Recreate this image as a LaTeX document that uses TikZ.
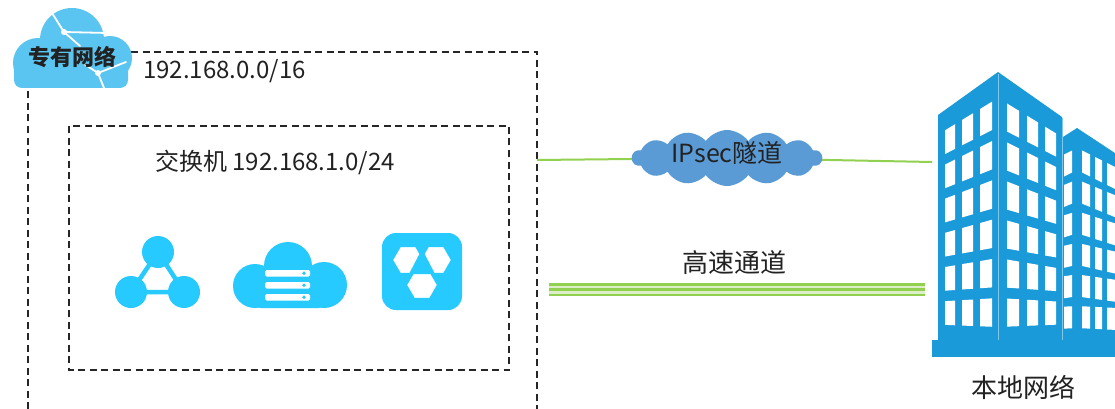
\documentclass[tikz,border=0pt]{standalone}
\usepackage{fontspec}
\setmainfont{Noto Sans CJK SC}
\usetikzlibrary{positioning,shapes.symbols,shapes.geometric}
\definecolor{vpcblue}{HTML}{5BC5F2}
\definecolor{iconcyan}{HTML}{27CAFE}
\definecolor{tunnelblue}{HTML}{5B9BD5}
\definecolor{bldgblue}{HTML}{1A9AD9}
\definecolor{linkgreen}{HTML}{92D050}
\definecolor{linklight}{HTML}{DCEFC8}
\definecolor{txt}{HTML}{222222}

\begin{document}
\begin{tikzpicture}[x=1pt,y=-1pt,
    boxline/.style={draw=black!85,line width=1.4pt,dash pattern=on 7pt off 4.5pt},
    lbl/.style={text=txt,inner sep=0pt,font=\fontsize{24}{28}\selectfont},
    biglbl/.style={text=txt,inner sep=0pt,font=\fontsize{26}{30}\selectfont},
    icon/.style={fill=iconcyan},
    link/.style={draw=linkgreen,line width=2pt},
    hsline/.style={draw=linkgreen,line width=2.5pt},
    tunnel/.style={cloud,cloud puffs=14,cloud puff arc=110,aspect=3.4,fill=tunnelblue,
      minimum width=190pt,minimum height=56pt,inner sep=0pt},
    hexa/.style={regular polygon,regular polygon sides=6,fill=white,draw=iconcyan,
      line width=2pt,minimum size=32pt,inner sep=0pt},
    window/.style={fill=white},
  ]
  \useasboundingbox (0,0) rectangle (1115,409);
  \fill[white] (0,0) rectangle (1115,409);

  % VPC box (open at the bottom) and vswitch box
  \draw[boxline] (28,409) -- (28,52) -- (537,52) -- (537,409);
  \draw[boxline] (69,126) rectangle (509,370);

  % VPC cloud badge
  \fill[vpcblue] (72,40) circle (32) (38,63) circle (25) (110,58) circle (22);
  \fill[vpcblue,rounded corners=8pt] (14,56) rectangle (128,88);
  \draw[white,line width=1.8pt,line cap=round] (52,13) -- (64,32) -- (108,33) (64,32) -- (80,46);
  \draw[white,line width=1.8pt,line cap=round] (84,64) -- (98,73) -- (104,88) (98,73) -- (126,62);
  \fill[white] (64,32) circle (3) (98,73) circle (3);
  \node[lbl,font=\fontsize{22}{26}\selectfont\bfseries] (vpc) at (72,57) {专有网络};
  \node[lbl,anchor=west] (vpcnet) at (143,71) {192.168.0.0/16};
  \node[lbl] (vsw) at (275,162) {交换机 192.168.1.0/24};

  % graph icon
  \coordinate (g1) at (158,252);
  \coordinate (g2) at (131,292);
  \coordinate (g3) at (184,292);
  \draw[draw=iconcyan,line width=4.5pt,line join=round] (g1) -- (g2) -- (g3) -- cycle;
  \foreach \c in {g1,g2,g3}
    \fill[icon] (\c) circle (16);

  % cloud server icon
  \fill[icon] (288,266) circle (24) (255,286) circle (22) (324,285) circle (23);
  \fill[icon,rounded corners=6pt] (255,270) rectangle (324,308);
  \foreach \yy in {270,282,294} {
    \fill[white,rounded corners=1.5pt] (265,\yy) rectangle (310,\yy+6.5);
    \fill[icon] (304,\yy+3.25) circle (1.8);
  }

  % hexagon icon
  \fill[icon,rounded corners=14pt] (382,233) rectangle (462,310);
  \node[hexa] (hexA) at (408,260) {};
  \node[hexa] (hexB) at (436,260) {};
  \node[hexa] (hexC) at (422,285) {};
  \fill[icon] (422,249) -- (409,274) -- (435,274) -- cycle;

  % IPsec tunnel
  \coordinate (boxE) at (537,160);
  \coordinate (ipsecC) at (727,158);
  \coordinate (bldgW) at (932,162);
  \draw[link] (boxE) -- (ipsecC) -- (bldgW);
  \node[tunnel] (ipsec) at (ipsecC) {};
  \node[lbl,font=\fontsize{25}{29}\selectfont] (ipseclbl) at (727,153) {IPsec隧道};

  % express connect
  \coordinate (hsW) at (549,289.5);
  \coordinate (hsE) at (925,289.5);
  \draw[hsline,double=linklight,double distance=8pt] (hsW) -- (hsE);
  \draw[hsline] (hsW) -- (hsE);
  \node[biglbl] (hslbl) at (734,263) {高速通道};

  % on-premises buildings
  \fill[bldgblue] (1062,137.6) -- (1077,128) -- (1130,163) -- (1130,340) -- (1062,340) -- cycle;
  \fill[bldgblue] (938,115) -- (998,72) -- (1062,117) -- (1062,340) -- (938,340) -- cycle;
  \node[fill=bldgblue,inner sep=0pt,minimum width=183pt,minimum height=17pt,anchor=north west]
    (base) at (932,340) {};
  \draw[bldgblue!55!white,line width=1pt] (998,74) -- (998,340) (1062,118) -- (1062,340);
  \foreach \r in {0,...,5} {
    \pgfmathsetmacro\ta{98+40*\r}
    \pgfmathsetmacro\sl{0.61-0.11*\r}
    \foreach \da/\db in {6/18,25/36,43/53}
      \fill[window] (998-\db,\ta+\sl*\db) -- (998-\da,\ta+\sl*\da)
        -- (998-\da,\ta+29+\sl*\da-0.1*\da) -- (998-\db,\ta+29+\sl*\db-0.1*\db) -- cycle;
    \foreach \da/\db in {9/21,29/40,47/58}
      \fill[window] (998+\da,\ta+\sl*\da) -- (998+\db,\ta+\sl*\db)
        -- (998+\db,\ta+29+\sl*\db-0.1*\db) -- (998+\da,\ta+29+\sl*\da-0.1*\da) -- cycle;
  }
  \foreach \r in {0,...,5} {
    \pgfmathsetmacro\ta{148+31.6*\r}
    \pgfmathsetmacro\sl{0.5-0.09*\r}
    \fill[window] (1077-13,\ta+\sl*13) -- (1077-5,\ta+\sl*5)
      -- (1077-5,\ta+22+\sl*5) -- (1077-13,\ta+22+\sl*13) -- cycle;
    \foreach \da/\db in {5/13,18/25,30/38}
      \fill[window] (1077+\da,\ta+\sl*\da) -- (1077+\db,\ta+\sl*\db)
        -- (1077+\db,\ta+22+\sl*\db) -- (1077+\da,\ta+22+\sl*\da) -- cycle;
  }
  \node[biglbl,below=18pt of base] (onprem) {本地网络};
\end{tikzpicture}
\end{document}
